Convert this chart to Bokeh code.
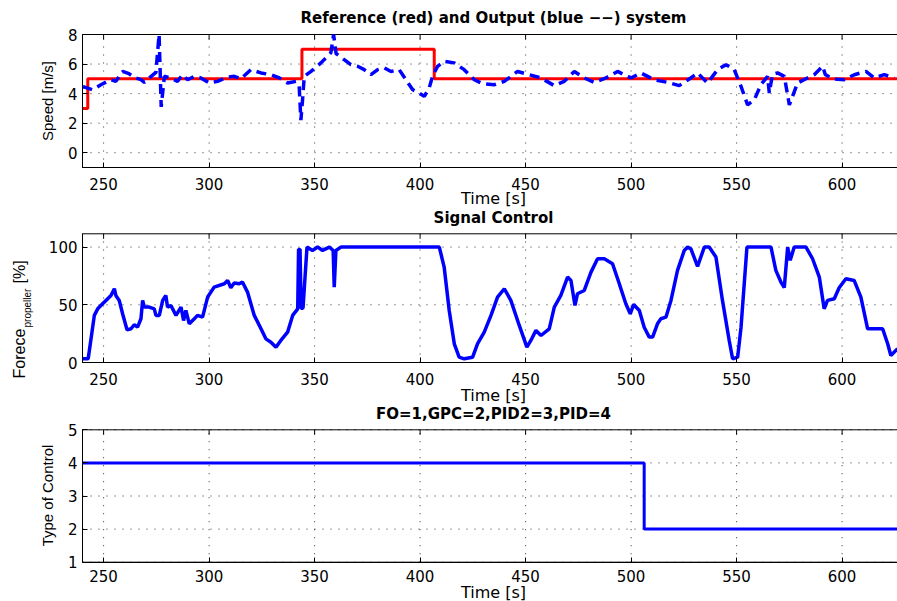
import math
from bokeh.plotting import figure
from bokeh.models import Range1d, FixedTicker, LinearAxis, Label
from bokeh.embed import file_html
from bokeh.resources import INLINE

# ---------------- data ----------------
x_ticks = [250, 300, 350, 400, 450, 500, 550, 600]
speed_ticks = [0, 2, 4, 6, 8]
force_ticks = [0, 50, 100]
type_ticks = [1, 2, 3, 4, 5]

t_min, t_max = 240, 631            # time axis limits of each panel
speed_lim = (-1, 8)
force_lim = (0, 111.5)
type_lim = (1, 5)

ref_t = [240, 242.5, 242.5, 344, 344, 406.7, 406.7, 631]
ref_v = [3, 3, 5, 5, 7, 7, 5, 5]

speed_t = [240, 241, 244.8, 248.7, 253.5, 255.8, 259, 262, 264.5, 267.7, 269.3, 271.6,
           274.8, 276.3, 277.3, 278.8, 281.9, 285, 287.4, 289.8, 293, 296.1, 300.1, 304,
           308.8, 311.9, 315, 319.8, 324.6, 329.3, 333.3, 337.2, 341.2, 342.7, 343.5,
           344.3, 345.1, 348.3, 353, 357.7, 359.0, 360.2, 360.9, 364, 367.2, 370.4,
           373.5, 376.7, 379.9, 383, 386.2, 390.1, 393.3, 396.5, 399.6, 402, 404.3,
           405.9, 408.3, 411.4, 416.2, 420.9, 425.7, 429.6, 435.1, 439.9, 446.2, 451.7,
           457.3, 463.6, 468.3, 473.1, 477.8, 482.5, 488.1, 493.6, 499.9, 504.6, 511,
           517.3, 522.8, 528.3, 531.5, 536.2, 541, 545, 548.9, 552.1, 555.2, 558.4,
           561.5, 564.7, 565.5, 567, 569.4, 572.6, 575, 578.9, 583.6, 586.8, 590.8, 592,
           595.5, 601, 605.8, 611.3, 615.2, 620, 624.7]
speed_v = [4.45, 4.44, 4.26, 4.6, 4.94, 4.83, 5.5, 5.35, 5.1, 4.94, 4.76, 5.06,
           5.44, 8.0, 3.1, 5.17, 5.06, 4.83, 5.28, 4.94, 5.17, 5.06, 4.72, 4.83,
           5.12, 5.17, 5.0, 5.62, 5.4, 5.28, 5.06, 4.72, 4.83, 4.5, 2.2,
           3.6, 5.17, 5.5, 6.08, 6.76, 8.0, 6.7, 6.64, 6.3, 5.96, 5.85,
           5.62, 5.28, 5.62, 5.74, 5.5, 5.62, 4.94, 4.26, 4.04, 3.81, 4.38,
           5.17, 5.85, 6.19, 6.08, 5.62, 4.94, 4.67, 4.6, 4.83, 5.5, 5.28,
           5.06, 4.54, 4.83, 5.5, 5.06, 4.76, 5.06, 5.5, 5.06, 5.4, 4.94,
           4.76, 4.54, 5.06, 5.4, 4.72, 5.62, 5.96, 5.62, 4.49, 3.24, 3.58,
           4.6, 5.17, 4.04, 5.3, 5.4, 5.17, 3.24, 4.72, 5.06, 5.28, 5.85, 5.3,
           4.99, 4.94, 5.28, 5.5, 5.06, 5.28, 5.06]

force_t = [240, 242.7, 245.6, 247.2, 248.7, 251.1, 253.5, 255.1, 255.8, 257.4, 259,
           261.1, 263, 264.5, 266.1, 267.7, 268.5, 269.3, 271.6, 274, 274.8, 276.4,
           278, 279.5, 280.3, 281.9, 284.3, 286.7, 287.9, 289, 290.6, 293, 294.5,
           296.9, 299.3, 302.4, 307.2, 308.8, 310.3, 311.9, 314.3, 315.8, 318.2,
           321.4, 324.6, 326.9, 329.3, 331.7, 334, 337.2, 339.6, 342, 342.4, 343.1,
           343.6, 344.5, 346.4, 349, 351.4, 353.8, 357, 358.8, 359.3, 360.1, 362.5,
           409.1, 411.4, 413.8, 416.2, 418.5, 420.9, 424.9, 427.2, 430.4, 433.6,
           436.7, 439.9, 443, 447, 450.6, 452.5, 454.9, 457.3, 461.2, 463.6, 466.7,
           469.9, 471.5, 473.4, 474.6, 477.8, 481, 484.1, 487.3, 491.2, 494.4, 497.5,
           499.6, 501.2, 503.9, 506.2, 508.6, 510.2, 512.5, 514.1, 516.5, 518.9, 522,
           525.2, 526.8, 528.3, 531.5, 534.7, 537, 540.2, 543.3, 546.5, 548.1, 550.5,
           552.1, 554.9, 566.3, 568.6, 571, 572.6, 574.2, 575.4, 577.3, 582.9, 586,
           589.2, 591.5, 593.1, 596.3, 598.6, 601.8, 605.7, 608.9, 612.1, 619.2,
           621.6, 623.1, 626.3]
force_v = [3.2, 3.2, 40.8, 46.5, 49.4, 53.8, 58.1, 63.9, 58.1, 53.8, 42.2,
           28.3, 29.2, 32.7, 30.6, 37.9, 53.8, 48, 48, 46.5, 40.8, 40.8,
           53.8, 58.1, 48, 49.4, 40.8, 48, 36.4, 45.1, 33.5, 37.9, 40.8,
           39.3, 56.7, 65.3, 68.2, 71.1, 64.8, 68.8, 68.2, 69.7, 61,
           40.8, 29.2, 20.5, 17.6, 13.3, 19.1, 26.3, 40.8, 46.5, 98, 98,
           47, 47, 100, 97.1, 100, 97.1, 100, 97, 65.3, 97, 100,
           100, 82.7, 45.1, 16.2, 4.6, 3.2, 4.6, 16.2, 26.3, 40.8,
           56.7, 63.9, 53.8, 32.1, 13.3, 19.1, 27.8, 23.4, 29.2, 48, 58.1,
           74, 71.1, 49.4, 59.6, 62.4, 78.3, 89.9, 89.9, 85.6, 68.2, 50.9,
           42.2, 50.3, 45.1, 30.6, 22, 22, 33.5, 37.9, 39.3, 53.8, 79.8,
           97.1, 100, 98.6, 83.3, 100, 100, 91.4, 53.8, 19.1, 3.2, 4.6,
           30.6, 100, 100, 79.8, 69.7, 64.8, 100, 88.5, 100, 100, 89.9,
           74, 46.5, 53.8, 55.2, 64.8, 72.6, 71.1, 56.7, 29.2, 29.2,
           16.2, 6.1, 11.9]

type_t = [240, 506.2, 506.2, 631]
type_v = [4, 4, 2, 2]

titles = ["Reference (red) and Output (blue \u2212\u2212) system",
          "Signal Control",
          "FO=1,GPC=2,PID2=3,PID=4"]

# ---------------- page geometry (pixels) ----------------
W, H = 897, 601
AX_LEFT = 82               # page x of the panels' left edge
XS = 2.11                  # pixels per second
TICK_LEN = 5               # tick length in pixels
x_start = t_min - AX_LEFT / XS
x_end = x_start + W / XS

# page band (top, bottom) of each panel box
bands = {"default": (34, 167, speed_lim),
         "p2": (233.3, 362, force_lim),
         "p3": (429.3, 561.7, type_lim)}


def scale(name):
    top, bot, (a, b) = bands[name]
    return (bot - top) / (b - a)


def yrange(name):
    top, bot, (a, b) = bands[name]
    s = scale(name)
    return Range1d(a - (H - bot) / s, b + top / s)


def xd(px):
    return x_start + px / XS


def yd(name, py):
    top, bot, (a, b) = bands[name]
    return a + (bot - py) / scale(name)


TICK_FONT = "DejaVu Sans"
LABEL_FONT = "Liberation Sans"

p = figure(width=W, height=H, output_backend="svg", toolbar_location=None,
           x_range=Range1d(x_start, x_end), y_range=yrange("default"),
           x_axis_location=None, y_axis_location=None,
           min_border=0, min_border_left=0, min_border_right=0,
           min_border_top=0, min_border_bottom=0)
p.extra_y_ranges = {"p2": yrange("p2"), "p3": yrange("p3")}
p.outline_line_color = None
p.background_fill_color = "white"
p.border_fill_color = "white"
p.xgrid.visible = False
p.ygrid.visible = False


def panel(name, yticks, title, time_base, title_base, xstand):
    lo, hi = bands[name][2]
    n = len(x_ticks)
    # dotted grid
    p.segment(x0=x_ticks, y0=[lo] * n, x1=x_ticks, y1=[hi] * n,
              y_range_name=name, line_color="#333333", line_dash="1 7", line_width=1)
    p.segment(x0=[t_min] * len(yticks), y0=yticks, x1=[t_max] * len(yticks), y1=yticks,
              y_range_name=name, line_color="#333333", line_dash="1 7", line_width=1)
    # box
    p.quad(left=[t_min], right=[t_max], bottom=[lo], top=[hi], y_range_name=name,
           fill_color=None, line_color="black", line_width=1)
    # inward ticks on the top edge of the box
    p.segment(x0=x_ticks, y0=[hi] * n, x1=x_ticks, y1=[hi - TICK_LEN / scale(name)] * n,
              y_range_name=name, line_color="black", line_width=1)
    # axes
    xa = LinearAxis(y_range_name=name, fixed_location=lo, bounds=(t_min, t_max),
                    ticker=FixedTicker(ticks=x_ticks))
    ya = LinearAxis(y_range_name=name, fixed_location=t_min, bounds=(lo, hi),
                    ticker=FixedTicker(ticks=yticks))
    for ax in (xa, ya):
        ax.major_tick_in = TICK_LEN
        ax.major_tick_out = 0
        ax.minor_tick_in = 0
        ax.minor_tick_out = 0
        ax.axis_line_color = "black"
        ax.major_tick_line_color = "black"
        ax.major_label_text_font = TICK_FONT
        ax.major_label_text_font_size = "15px"
        ax.major_label_text_color = "black"
        ax.major_label_standoff = 5
    xa.major_label_standoff = xstand
    p.add_layout(xa, "below")
    p.add_layout(ya, "left")
    # title and time label
    p.add_layout(Label(x=xd(493), y=yd(name, title_base), y_range_name=name, text=title,
                       text_font=TICK_FONT, text_font_size="15px", text_font_style="bold",
                       text_align="center", text_baseline="alphabetic", text_color="black"))
    p.add_layout(Label(x=xd(493), y=yd(name, time_base), y_range_name=name, text="Time [s]",
                       text_font=TICK_FONT, text_font_size="16px",
                       text_align="center", text_baseline="alphabetic", text_color="black"))


def vlabel(name, px, py, text, size, align="center"):
    p.add_layout(Label(x=xd(px), y=yd(name, py), y_range_name=name, text=text,
                       text_font=LABEL_FONT, text_font_size=size, angle=math.pi / 2,
                       angle_units="rad", text_align=align, text_baseline="alphabetic",
                       text_color="black"))


# ---- panel 1 ----
panel("default", speed_ticks, titles[0], 198.4, 17.5, 10)
p.line(ref_t, ref_v, line_color="#ff0000", line_width=3)
p.line(speed_t, speed_v, line_color="#0000ff", line_width=3.5, line_dash="10 6")
vlabel("default", 47.4, 100.5, "Speed [m/s]", "15px")

# ---- panel 2 ----
panel("p2", force_ticks, titles[1], 394.7, 217, 10)
p.line(force_t, force_v, line_color="#0000ff", line_width=3.5, y_range_name="p2")
vlabel("p2", 19, 378, "Forece", "16px", "left")
vlabel("p2", 26.6, 327, "propeller", "10px", "left")
vlabel("p2", 19, 283, "[%]", "16px", "left")

# ---- panel 3 ----
panel("p3", type_ticks, titles[2], 591.8, 413.2, 8)
p.line(type_t, type_v, line_color="#0000ff", line_width=3, y_range_name="p3")
vlabel("p3", 47.4, 495, "Type of Control", "15px")

open("out.html", "w").write(file_html(p, INLINE))
